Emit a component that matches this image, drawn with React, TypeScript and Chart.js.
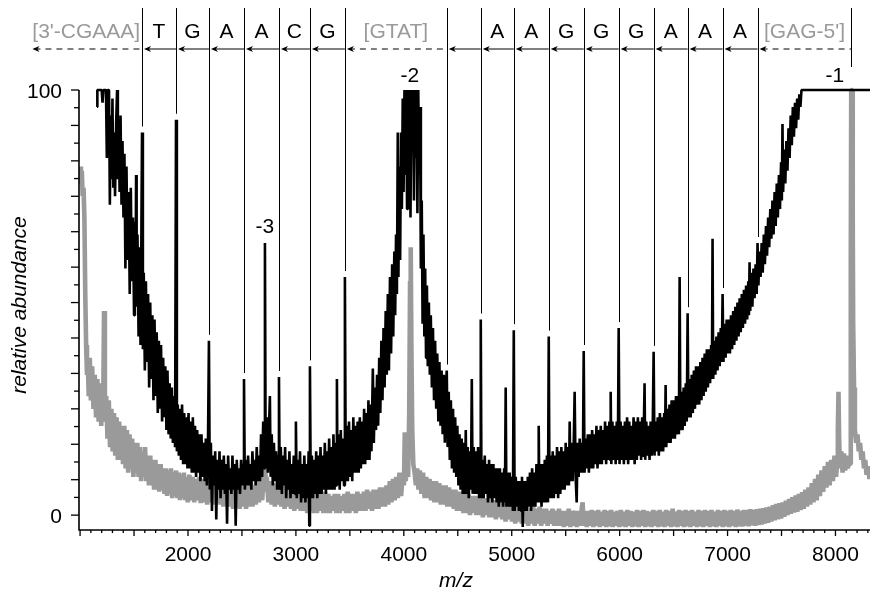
import { useEffect, useRef } from 'react';
import { Chart, registerables } from 'chart.js';

Chart.register(...registerables);

const FONT = '"Liberation Sans", Arial, Helvetica, sans-serif';

// ---- axes ----
const xAxisMin = 990;
const xAxisMax = 8320;
const yAxisMin = -3.5;
const yAxisMax = 100;
const xTickLabels = [2000, 3000, 4000, 5000, 6000, 7000, 8000];
const yTickLabels = [0, 100];
const xMinorTickStep = 100;
const xMajorTickStep = 500;
const yTickDivisions = 24;

// ---- sequence ladder ----
const sequenceStartMz = 540;
const fragmentMz = [1574, 1889, 2194, 2519, 2843, 3130, 3454, 4398, 4713, 5019, 5343, 5667, 5991, 6315, 6630, 6954, 7278, 8148];
const fragmentAbundance = [90, 93, 41, 32, 32.5, 35, 56, 34, 46, 43.5, 42, 38.6, 44, 38.4, 47.5, 52, 64, 100];
const sequenceLabels = ["[3'-CGAAA]", 'T', 'G', 'A', 'A', 'C', 'G', '[GTAT]', '', 'A', 'A', 'G', 'G', 'G', 'A', 'A', 'A', "[GAG-5']"];

// ---- charge state labels ----
const chargeLabels = ['-3', '-2', '-1'];
const chargeMz = [2713, 4056, 7995];
const chargeLabelAbundance = [66.4, 101.9, 101.9];

// ---- black spectrum (m/z, relative abundance) ----
const blackTrace: [number, number][] = [
  [1157,96],[1160,100],[1200,100],[1208,97],[1216,100],[1240,100],[1248,84],[1256,100],[1268,100],[1276,73],[1284,94],[1292,79],[1300,98],[1308,77],[1316,90],[1324,75],[1334,92],[1343,100],[1350,79],[1358,93],[1366,76],[1375,94],[1384,73],[1393,88],[1402,70],[1411,85],
  [1420,58],[1430,82],[1440,60],[1450,76],[1460,52],[1470,77],[1480,55],[1490,70],[1500,47],[1508,69],[1514,50],[1519,80],[1524,49],[1532,66],[1542,42],[1552,63],[1560,40],[1566,58],[1574,90],[1582,39],[1590,57],[1600,34],[1610,55],[1620,36],[1630,52],[1640,30],[1650,50],[1660,32],[1670,47],[1680,27],[1690,46],[1700,28],[1710,43],[1720,24],[1730,41],[1740,25],[1750,40],[1760,22],[1770,37],[1780,23],[1790,35],[1800,20],[1810,34],[1820,19],[1830,31],[1840,18],[1850,30],[1860,17],[1870,28],[1880,16],[1889,93],[1897,15],[1905,26],[1915,14],[1925,25],[1935,13],[1945,26],[1955,12],[1965,24],[1975,12],[1985,23],[1995,11],[2005,24],[2015,11],[2025,22],[2035,10],[2045,23],[2055,10],[2065,21],[2075,9],[2085,20],[2095,10],[2105,19],[2115,8],[2125,19],[2135,9],[2145,17],[2155,8],[2165,18],[2175,7],[2185,16],[2194,41],[2202,6],[2212,17],[2222,1],[2232,14],[2242,7],[2252,15],[2262,-1],[2272,13],[2282,6],[2292,15],[2302,4],[2312,13],[2322,6],[2332,14],[2342,5],[2352,12],[2362,-2],[2372,14],[2382,6],[2392,11],[2402,5],[2412,14],[2422,6],[2432,12],[2442,-2.5],[2452,13],[2462,6],[2472,11],[2482,5],[2492,13],[2502,7],[2511,12],[2519,32],[2527,6],[2537,13],[2547,7],[2557,14],[2567,7],[2577,12],[2587,6],[2597,15],[2607,8],[2617,13],[2627,7],[2637,16],[2647,8],[2657,14],[2667,8],[2677,19],[2687,9],[2697,22],[2706,11],[2713,64],[2720,11],[2730,23],[2740,10],[2750,20],[2759,28],[2766,9],[2776,19],[2786,7],[2796,17],[2806,8],[2816,15],[2826,6],[2836,14],[2843,32.5],[2850,6],[2860,16],[2870,5],[2880,14],[2890,7],[2900,16],[2910,4],[2920,13],[2930,6],[2940,15],[2950,4],[2960,12],[2970,5],[2980,14],[2992,5],[3000,22],[3008,4],[3018,13],[3028,5],[3038,15],[3048,3],[3058,12],[3068,4],[3078,14],[3088,3],[3098,12],[3108,4],[3118,15],[3124,-2.5],[3130,35],[3138,4],
  [3148,14],[3158,4],[3168,13],[3178,5],[3188,15],[3198,4],[3208,14],[3218,5],[3228,16],[3238,5],[3248,14],[3258,6],[3268,17],[3278,5],[3288,15],[3298,6],[3308,18],[3318,6],[3328,16],[3338,6],[3348,19],[3358,6],[3368,17],[3374,7],[3380,32],[3386,7],[3396,19],[3406,6],[3416,20],[3426,8],[3436,18],[3446,7],[3454,56],[3462,8],[3472,21],[3482,8],[3492,22],[3502,9],[3512,20],[3522,8],[3532,23],[3542,10],[3552,21],[3562,10],[3572,22],[3582,10],[3592,23],[3602,11],[3612,22],[3622,12],[3632,25],[3642,12],[3652,24],[3662,13],[3672,27],[3682,13],[3692,26],[3700,15],[3713,34.5],[3722,17],[3732,30],[3742,20],[3752,33],[3762,21],[3772,37],[3782,24],[3792,41],[3802,27],[3812,44],[3822,30],[3832,48],[3842,33],[3852,52],[3862,34],[3872,56],[3882,38],[3892,59],[3902,42],[3912,62],[3920,47],[3928,66],[3936,52],[3944,90],[3950,56],[3958,82],[3966,60],[3974,90],[3982,72],[3990,98],[3998,76],[4006,100],[4014,80],[4022,100],[4030,72],[4038,100],[4046,88],[4054,100],[4062,70],[4070,100],[4078,92],[4086,100],[4094,74],[4102,100],[4110,84],[4118,100],[4126,71],[4134,100],[4142,80],[4150,96],[4158,58],[4166,74],[4174,45],[4182,66],[4190,42],[4198,58],[4206,37],[4214,54],[4222,35],[4232,50],[4241,33],[4250,47],[4260,30],[4270,44],[4280,27],[4290,41],[4300,25],[4310,38],[4320,22],[4330,36],[4340,21],[4350,34],[4360,19],[4370,33],[4380,17],[4390,31],[4398,34],[4406,16],[4416,29],[4426,13],[4436,27],[4446,11],[4456,25],[4466,10],[4476,23],[4486,9],[4496,21],[4506,7],[4516,19],[4526,6],[4536,18],[4546,5],[4556,17],[4566,5],[4574,20],[4582,5],[4592,16],[4602,4],[4612,15],[4622,6],[4630,32],[4638,5],[4648,16],[4658,5],[4668,15],[4678,5],[4688,16],[4698,4],[4706,14],[4713,46],[4720,4],[4730,13],[4740,4],[4750,14],[4760,5],[4770,12],[4780,3],[4790,13],[4800,4],[4810,12],[4820,3],[4830,12],[4840,4],[4850,11],[4860,3],[4870,11],[4880,2],[4890,11],[4900,3],[4910,10],[4920,2],[4930,11],[4937,3],[4944,30],[4951,2],[4961,10],[4971,2],[4981,10],[4991,2],[5001,9],[5011,1],[5019,43.5],[5027,1],[5037,9],[5047,2],[5057,8],[5067,1],[5077,8],[5087,1],[5095,9],[5102,-2.8],[5109,8],[5119,1],[5129,8],[5139,1],[5149,9],[5159,2],[5169,10],[5179,1],[5189,11],[5199,2],[5209,10],[5219,2],[5229,12],[5239,3],[5245,11],[5250,21],[5256,3],[5266,12],[5276,2],[5286,12],[5296,3],[5306,13],[5316,3],[5326,14],[5336,3],[5343,42],[5350,4],[5360,14],[5370,4],[5380,15],[5390,4],[5400,14],[5410,5],[5420,16],[5430,4],[5440,15],[5450,5],[5460,16],[5470,6],[5480,15],[5490,6],[5500,17],[5510,7],[5520,16],[5530,7],[5537,22],[5544,8],[5554,17],[5564,8],[5574,16],[5583,29],[5592,9],[5602,3],[5610,17],[5620,9],[5630,18],[5640,10],[5650,17],[5659,10],[5667,38.6],[5675,10],[5685,18],[5695,11],[5705,19],[5715,10],[5725,19],[5735,11],[5745,20],[5755,11],[5765,19],[5775,12],[5785,21],[5795,11],[5805,20],[5815,12],[5825,21],[5835,12],[5845,20],[5855,13],[5865,22],[5875,12],[5885,21],[5895,13],[5905,22],[5911,13],[5917,29],[5923,12],[5933,22],[5943,13],[5953,21],[5963,12],[5973,22],[5983,13],[5991,44],[5999,12],[6009,22],[6019,13],[6029,21],[6039,12],[6049,22],[6059,13],[6069,23],[6079,12],[6089,22],[6099,13],[6109,21],[6119,13],[6129,23],[6139,12],[6149,22],[6159,13],[6169,23],[6179,14],[6189,22],[6199,13],[6209,23],[6219,14],[6225,22],[6231,31],[6237,13],[6247,22],[6257,14],[6267,21],[6277,13],[6287,22],[6297,14],[6307,21],[6315,38.4],[6323,14],[6333,22],[6343,15],[6353,23],[6363,14],[6373,24],[6383,15],[6393,23],[6403,15],[6413,24],[6420,16],[6426,30.6],[6432,16],[6442,25],[6452,17],[6462,26],[6472,17],[6482,27],[6492,18],[6502,27],[6512,18],[6522,28],[6532,19],[6542,28],[6549,19],[6556,56],[6563,20],[6573,29],[6583,20],[6593,30],[6603,21],[6613,31],[6622,22],[6630,47.5],[6638,23],[6648,32],[6658,23],[6668,33],[6678,24],[6688,34],[6698,25],[6708,35],[6718,26],[6728,35],[6738,26],[6748,36],[6758,27],[6768,37],[6778,28],[6788,38],[6798,29],[6808,39],[6818,30],[6828,39],[6838,31],[6848,40],[6855,32],[6861,65],[6867,32],[6877,41],[6887,33],[6897,42],[6907,34],[6917,43],[6927,35],[6937,44],[6946,36],[6954,52],[6962,36],[6972,45],[6982,37],[6992,46],[7002,38],[7012,46],[7022,38],[7032,47],[7042,39],[7052,48],[7062,40],[7072,49],[7082,41],[7092,50],[7102,42],[7112,51],[7122,43],[7132,52],[7142,44],[7152,53],[7162,45],[7172,54],[7182,46],[7192,55],[7198,47],[7204,59.5],[7210,48],[7220,57],[7230,49],[7240,58],[7250,51],[7260,59],[7270,52],[7278,64],[7286,54],[7296,62],[7306,56],[7316,64],[7326,57],[7336,66],[7346,59],[7356,68],[7366,61],[7376,70],[7386,63],[7396,72],[7406,65],[7416,74],[7426,66],[7436,76],[7446,68],[7456,78],[7466,70],[7476,80],[7486,72],[7496,83],[7503,74],[7509,92],[7515,76],[7525,86],[7535,78],[7545,88],[7555,81],[7565,91],[7575,84],[7585,94],[7595,87],[7605,96],[7615,89],[7625,97],[7635,91],[7645,98],[7655,93],[7665,99],[7675,96],[7685,100],[8330,100],
];

// ---- grey spectrum (m/z, relative abundance) ----
const greyTrace: [number, number][] = [
  [1000,82],[1008,78],[1016,81],[1024,75],[1032,77],[1040,70],[1048,52],[1056,40],[1064,33],[1072,36],[1080,28],[1090,37],[1100,27],[1112,35],[1124,25],[1136,33],[1148,23],[1160,32],[1172,22],[1184,31],[1196,21],[1206,30],[1214,24],[1222,48],[1230,22],[1242,28],[1254,18],[1266,27],[1278,16],[1290,25],[1302,15],[1314,24],[1326,14],[1338,23],[1350,13],[1362,22],[1374,13],[1386,21],[1398,12],[1410,21],[1422,11],[1434,20],[1446,10],[1458,19],[1470,11],[1482,18],[1494,9],[1506,17],[1518,10],[1530,17],[1542,9],[1554,16],[1566,8],[1578,15],[1590,9],[1602,16],[1614,8],[1626,14],[1638,7],[1650,14],[1662,7],[1674,13],[1686,6],[1698,13],[1710,6],[1722,12],[1734,5.5],[1746,12],[1758,6],[1770,11],[1782,5],[1794,11],[1806,4.5],[1818,10.5],[1830,5],[1842,11],[1854,4],[1866,10],[1878,4.5],[1890,10.5],[1902,4],[1914,10],[1926,3.5],[1938,9.5],[1950,4],[1962,10],[1974,3.5],[1986,9],[1998,3],
  [2013,9.5],[2028,3.5],[2043,9],[2058,3],[2073,8.5],[2088,3.5],[2103,9],[2118,2.8],[2133,8.5],[2148,3],[2163,8.5],[2178,2.5],[2193,8],[2208,3],[2223,8.5],[2238,2.5],[2253,8],[2268,3],[2283,8],[2298,2.5],[2313,7.5],[2328,2],[2343,8],[2358,2.5],[2373,7.5],[2388,2],[2403,7.5],[2418,1.5],[2433,7],[2448,2],[2463,7.5],[2478,1.5],[2493,7],[2508,2],[2523,7.5],[2538,1.5],[2553,7],[2568,2],[2583,7.5],[2598,2],[2613,7],[2628,2.5],[2643,8],[2658,3],[2673,8.5],[2688,3.5],[2698,9],[2706,6],[2713,19],[2720,7],[2730,9],[2745,3],[2760,8],[2775,2.5],[2790,7.5],[2805,2],[2820,7],[2835,2.5],[2850,7.5],[2865,2],[2880,7],[2895,1.5],[2910,7],[2925,2],[2940,6.5],[2955,1.5],[2970,6.5],[2985,1],[3000,6],[3015,1.5],[3030,6],[3045,1],[3060,5.5],[3075,1],[3090,6],[3105,0.5],[3120,5.5],[3135,1],[3150,5],[3165,0.5],[3180,5.5],[3195,0.5],[3210,5],[3225,1],[3240,5],[3255,0.5],[3270,5.5],[3285,0.5],[3300,5],[3315,0.5],[3330,4.5],[3345,1],[3360,5],[3375,0.5],[3390,5],[3405,0.5],[3420,4.5],[3435,1],[3450,5],[3465,0.5],[3480,5.5],[3495,0.5],[3510,5],[3525,1],[3540,5],[3555,0.5],[3570,5.5],[3585,1],[3600,5],[3615,1],[3630,5.5],[3645,1],[3660,6],[3675,1.5],[3690,5.5],[3705,1],[3720,6],[3735,1.5],[3750,6],[3765,1.5],[3780,6.5],[3795,2],[3810,6.5],[3825,2],[3840,7],[3855,2.5],[3870,8],[3885,3],[3900,8.5],[3915,3.5],[3930,9],[3945,4],[3960,10],[3975,4.5],[3990,10],[4001,7],[4009,19.5],[4017,8],[4028,11],[4040,9],[4050,24],[4058,55],[4064,63],[4070,40],[4078,20],[4088,12],[4100,10],[4112,7],[4124,11],[4136,6],[4148,10.5],[4163,5],[4178,10],[4193,4],[4208,9],[4223,4],[4238,8.5],[4253,3.5],[4268,8],[4283,3],[4298,8],[4313,3],[4328,7.5],[4343,2.5],[4358,7],[4373,2.5],[4388,7],[4403,2],[4418,6.5],[4433,2],[4448,6],[4463,1.5],[4478,6],[4493,1],[4508,5.5],[4523,1],[4538,5.5],[4553,0.5],[4568,5],[4583,0.5],[4598,5],[4613,0],[4628,4.5],[4643,0.5],[4658,4.5],[4673,0],[4688,4.5],[4703,0],[4718,4],[4733,-0.5],[4748,4],[4763,0],[4778,3.5],[4793,-0.5],[4808,4],[4823,-0.5],[4838,3.5],[4853,-1],[4868,3.5],[4883,-0.5],[4898,3],[4913,-1],[4928,3],[4943,-1.5],[4958,2.5],[4973,-1],[4988,2.5],
  [5003,-1.5],[5018,2],[5033,-2],[5048,2],[5063,-1.5],[5078,2],[5093,-2],[5108,1.5],[5123,-2],[5138,2],[5153,-2.5],[5168,1.5],[5183,-2],[5198,2],[5213,-2.5],[5228,1.5],[5243,-2],[5258,2],[5273,-2.5],[5288,1.5],[5303,-2],[5318,1.5],[5333,-2.5],[5348,1],[5363,-2],[5378,1.5],[5393,-2.5],[5408,1],[5423,-2.5],[5438,1.5],[5453,-2.5],[5468,1],[5483,-2.8],[5498,1],[5513,-2.5],[5528,1.5],[5543,-2.8],[5558,1],[5573,-2.5],[5588,1],[5603,-2.8],[5618,1],[5633,-2.5],[5648,1.5],[5657,3],[5666,-2.5],[5681,1],[5696,-2.8],[5711,1],[5726,-2.5],[5741,1.2],[5756,-2.8],[5771,1],[5786,-2.5],[5801,1.2],[5816,-2.8],[5831,0.8],[5846,-2.5],[5861,1.2],[5876,-2.8],[5891,1],[5906,-2.6],[5921,1.2],[5936,-2.8],[5951,0.8],[5966,-2.5],[5981,1],[5996,-2.8],[6011,1.2],[6026,-2.6],[6041,0.8],[6056,-2.8],[6071,1.2],[6086,-2.5],[6101,1],[6116,-2.8],[6131,0.8],[6146,-2.6],[6161,1.2],[6176,-2.8],[6191,1],[6206,-2.5],[6221,1.2],[6236,-2.8],[6251,1],[6266,-2.6],[6281,0.8],[6296,-2.8],[6311,1.2],[6326,-2.5],[6341,1],[6356,-2.8],[6371,1.2],[6386,-2.6],[6401,0.8],[6416,-2.8],[6431,1.2],[6446,-2.5],[6461,1],[6476,-2.8],[6491,1.5],[6506,-2.6],[6521,0.8],[6536,-2.8],[6551,1.2],[6566,-2.5],[6581,1],[6596,-2.8],[6611,1.2],[6626,-2.6],[6641,1],[6656,-2.8],[6671,1.2],[6686,-2.5],[6701,0.8],[6716,-2.8],[6731,1.2],[6746,-2.6],[6761,1],[6776,-2.8],[6791,1.2],[6806,-2.5],[6821,1],[6836,-2.8],[6851,1.2],[6866,-2.6],[6881,0.8],[6896,-2.8],[6911,1.2],[6926,-2.5],[6941,1],[6956,-2.8],[6971,1.2],[6986,-2.6],[7001,1],[7016,-2.8],[7031,1.2],[7046,-2.5],[7061,1],[7076,-2.8],[7091,1.3],[7106,-2.6],[7121,1],[7136,-2.7],[7151,1.2],[7166,-2.5],[7181,1.2],[7196,-2.6],[7211,1.4],[7226,-2.4],[7241,1.2],[7256,-2.5],[7271,1.4],[7286,-2.3],[7301,1.5],[7316,-2.2],[7331,1.6],[7346,-2],[7361,1.8],[7376,-1.8],[7391,2],[7406,-1.5],[7421,2.3],[7436,-1.2],[7451,2.6],[7466,-1],[7481,2.8],[7496,-0.8],[7511,3],[7526,-0.4],[7541,3.4],[7556,0],[7571,3.8],[7586,0.3],[7601,4.2],[7616,0.6],[7631,4.6],[7646,0.8],[7661,5],[7676,1.2],[7691,5.4],[7706,1.5],[7721,6],[7736,2],[7751,6.5],[7766,2.5],[7781,7.5],[7796,3],[7811,8.5],[7826,3.5],[7841,9.5],[7856,4.5],[7871,10.5],[7886,5.5],[7901,11.5],[7916,6.5],[7931,12.5],[7946,7],[7961,13],[7976,8],[7991,14],[8005,9],[8015,12],[8022,20],[8028,29],[8034,18],[8042,11],[8054,15],[8066,10],[8078,14.5],[8090,10.5],[8102,14],[8114,11],[8126,13.5],[8136,12],[8142,60],[8146,100],[8156,100],[8160,70],[8164,45],[8172,30],[8180,20],[8192,17],[8204,19],[8216,15],[8228,17],[8240,13],[8252,15],[8264,11],[8276,13],[8288,9.5],[8300,11.5],[8315,8.5],[8325,10],
];

const GREY = '#9a9a9a';

const overlayPlugin = {
  id: 'overlay',
  afterDraw(chart: any) {
    const ctx: CanvasRenderingContext2D = chart.ctx;
    const xs = chart.scales.x;
    const ys = chart.scales.y;
    const area = chart.chartArea;
    const px = (v: number) => xs.getPixelForValue(v);
    const py = (v: number) => ys.getPixelForValue(v);
    ctx.save();
    ctx.strokeStyle = '#000';
    ctx.fillStyle = '#000';

    // axis lines
    ctx.lineWidth = 1.6;
    ctx.beginPath();
    ctx.moveTo(area.left, py(yAxisMax));
    ctx.lineTo(area.left, area.bottom);
    ctx.lineTo(area.right, area.bottom);
    ctx.stroke();

    // y ticks
    ctx.lineWidth = 1.3;
    for (let k = 0; k <= yTickDivisions; k++) {
      const y = py((k * 100) / yTickDivisions);
      const len = k % 2 === 0 ? 8 : 5;
      ctx.beginPath();
      ctx.moveTo(area.left - len, y);
      ctx.lineTo(area.left, y);
      ctx.stroke();
    }
    // x ticks
    for (let m = 1000; m <= xAxisMax; m += xMinorTickStep) {
      const x = px(m);
      const len = m % xMajorTickStep === 0 ? 6 : 3;
      ctx.beginPath();
      ctx.moveTo(x, area.bottom);
      ctx.lineTo(x, area.bottom + len);
      ctx.stroke();
    }

    // tick labels
    ctx.font = `21px ${FONT}`;
    ctx.textBaseline = 'alphabetic';
    ctx.textAlign = 'center';
    for (const t of xTickLabels) ctx.fillText(String(t), px(t), area.bottom + 31);
    ctx.textAlign = 'right';
    for (const t of yTickLabels) ctx.fillText(String(t), area.left - 17, py(t) + 7.5);

    // sequence ladder
    const bounds = [sequenceStartMz, ...fragmentMz];
    const arrowY = 49;
    ctx.lineWidth = 1;
    for (let i = 0; i < sequenceLabels.length; i++) {
      const x0 = px(bounds[i]);
      const x1 = px(bounds[i + 1]);
      const label = sequenceLabels[i];
      const bracket = label.startsWith('[');
      ctx.setLineDash(bracket ? [6, 5] : []);
      ctx.beginPath();
      ctx.moveTo(x0 + 4, arrowY);
      ctx.lineTo(x1, arrowY);
      ctx.stroke();
      ctx.setLineDash([]);
      // arrowhead pointing left
      ctx.beginPath();
      ctx.moveTo(x0 + 2, arrowY);
      ctx.lineTo(x0 + 9, arrowY - 3);
      ctx.lineTo(x0 + 7, arrowY);
      ctx.lineTo(x0 + 9, arrowY + 3);
      ctx.closePath();
      ctx.fill();
      // label
      ctx.font = `21px ${FONT}`;
      ctx.textAlign = 'center';
      ctx.fillStyle = bracket ? GREY : '#000';
      if (label) ctx.fillText(label, (x0 + x1) / 2, 38);
      ctx.fillStyle = '#000';
    }
    // vertical fragment lines
    for (let j = 0; j < fragmentMz.length; j++) {
      const x = Math.round(px(fragmentMz[j])) + 0.5;
      const gap = fragmentAbundance[j] >= 100 ? 23 : 6;
      ctx.beginPath();
      ctx.moveTo(x, 8);
      ctx.lineTo(x, py(fragmentAbundance[j]) - gap);
      ctx.stroke();
    }

    // charge state labels
    ctx.font = `21px ${FONT}`;
    ctx.textAlign = 'center';
    for (let k = 0; k < chargeLabels.length; k++) {
      ctx.fillText(chargeLabels[k], px(chargeMz[k]), py(chargeLabelAbundance[k]));
    }

    // axis titles
    ctx.font = `italic 21px ${FONT}`;
    ctx.textAlign = 'center';
    ctx.fillText('m/z', 456, 587);
    ctx.save();
    ctx.translate(26, 305);
    ctx.rotate(-Math.PI / 2);
    ctx.fillText('relative abundance', 0, 0);
    ctx.restore();

    ctx.restore();
  },
};

export default function App() {
  const ref = useRef<HTMLCanvasElement>(null);
  useEffect(() => {
    const canvas = ref.current;
    if (!canvas) return;
    const lineCommon = {
      pointRadius: 0,
      pointHoverRadius: 0,
      tension: 0,
      fill: false,
      borderJoinStyle: 'bevel' as const,
      clip: { left: 0, top: 4, right: 0, bottom: 4 },
    };
    const chart = new Chart(canvas, {
      type: 'line',
      data: {
        datasets: [
          {
            label: 'black',
            data: blackTrace.map(([x, y]) => ({ x, y })),
            borderColor: '#000',
            borderWidth: 2.6,
            ...lineCommon,
          },
          {
            label: 'grey',
            data: greyTrace.map(([x, y]) => ({ x, y })),
            borderColor: GREY,
            borderWidth: 4.6,
            ...lineCommon,
          },
        ],
      },
      options: {
        animation: false,
        responsive: false,
        devicePixelRatio: 1,
        events: [],
        layout: { padding: { top: 90, right: 0, left: 0, bottom: 0 } },
        plugins: { legend: { display: false }, tooltip: { enabled: false }, title: { display: false } },
        scales: {
          x: {
            type: 'linear',
            min: xAxisMin,
            max: xAxisMax,
            grid: { display: false },
            border: { display: false },
            ticks: { display: false },
            afterFit: (s: any) => { s.height = 62; },
          },
          y: {
            type: 'linear',
            min: yAxisMin,
            max: yAxisMax,
            grid: { display: false },
            border: { display: false },
            ticks: { display: false },
            afterFit: (s: any) => { s.width = 79; },
          },
        },
      } as any,
      plugins: [overlayPlugin],
    });
    return () => chart.destroy();
  }, []);
  return (
    <div style={{ position: 'fixed', left: 0, top: 0, width: 870, height: 592, background: '#fff' }}>
      <canvas ref={ref} width={870} height={592} style={{ display: 'block', width: 870, height: 592 }} />
    </div>
  );
}
